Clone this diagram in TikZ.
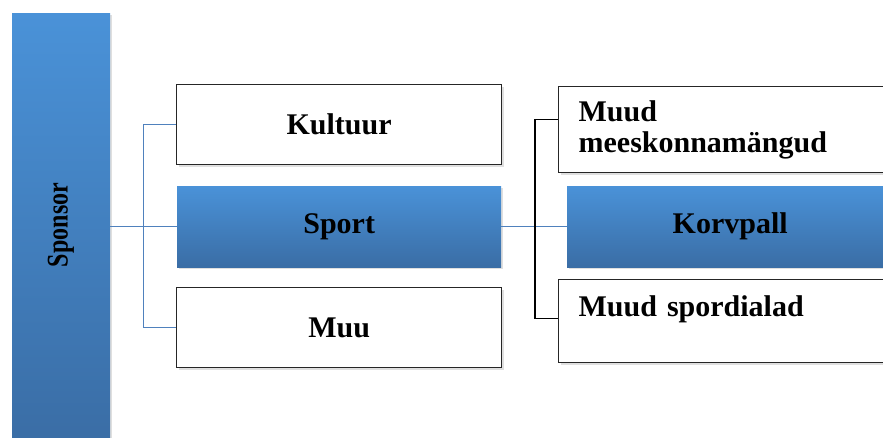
\documentclass[tikz,border=0pt]{standalone}
\usepackage{fontspec}
\setmainfont{Liberation Serif}
\usetikzlibrary{shadows}
\definecolor{bartop}{HTML}{4A92D8}
\definecolor{barbottom}{HTML}{3A6DA5}
\definecolor{linkblue}{HTML}{4F81BD}
\tikzset{
  boxtext/.style={font=\fontsize{30}{31}\selectfont\bfseries},
  plainbox/.style={boxtext, draw=black!85, line width=1.3pt, fill=white, inner sep=0pt,
    anchor=north west, drop shadow={shadow xshift=2pt, shadow yshift=-2pt, opacity=0.25}},
  bluebox/.style={boxtext, top color=bartop, bottom color=barbottom, inner sep=0pt,
    anchor=north west, drop shadow={shadow xshift=2pt, shadow yshift=-2pt, opacity=0.25}},
  leftbox/.style={plainbox, align=left, inner xsep=20pt, text width=305pt},
  link/.style={draw=linkblue, line width=1pt},
  fork/.style={draw=black, line width=1.2pt}
}
\begin{document}
\begin{tikzpicture}[x=1pt, y=-1pt]
  \useasboundingbox (0,0) rectangle (883,437);
  \clip (0,0) rectangle (883,437);
  % left column
  \node[bluebox, minimum width=98pt, minimum height=430pt] (sponsor) at (12,13) {};
  \node[boxtext, rotate=90] (sponsortext) at (61,225) {\scalebox{0.8}[1]{Sponsor}};
  % middle column
  \node[plainbox, minimum width=325pt, minimum height=80pt] (kultuur) at (176,84) {Kultuur};
  \node[bluebox, minimum width=324pt, minimum height=81pt] (sport) at (177,186) {Sport};
  \node[plainbox, minimum width=325pt, minimum height=80pt] (muu) at (176,287) {Muu};
  % right column
  \node[leftbox, minimum height=86pt] (meesk) at (558,86) {Muud\\meeskonnamängud};
  \node[bluebox, minimum width=326pt, minimum height=81pt] (korvpall) at (567,186) {Korvpall};
  \node[leftbox, minimum height=83pt] (spordialad) at (558,279) {Muud spordialad\\\mbox{}};
  % connectors
  \draw[link] (sponsor.east |- sport.west) -- (sport.west);
  \draw[link] (kultuur.west) -- ++(-33,0) |- (muu.west);
  \draw[link] (sport.east) -- (korvpall.west);
  \draw[fork] ([yshift=10pt]meesk.west) -- ++(-23,0) |- ([yshift=3pt]spordialad.west);
\end{tikzpicture}
\end{document}
